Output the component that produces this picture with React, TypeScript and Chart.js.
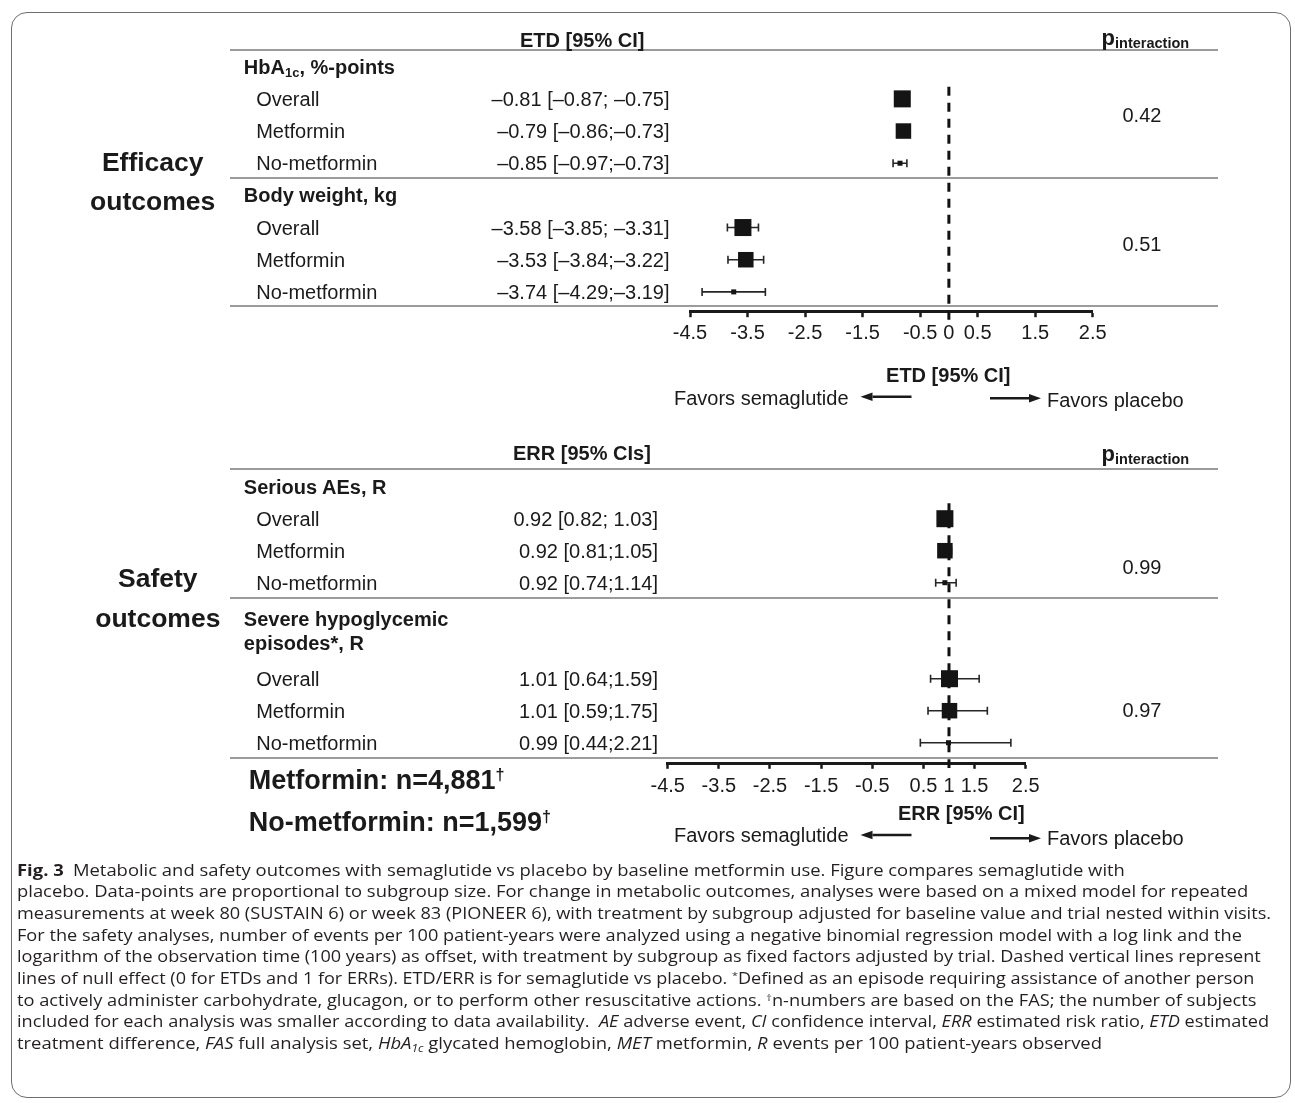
import React, { useEffect, useLayoutEffect, useRef } from 'react';
import { Chart, registerables } from 'chart.js';

Chart.register(...registerables);

// ---------------- DATA ----------------
const subgroups = ['Overall', 'Metformin', 'No-metformin'];

// Efficacy (ETD)
const etdRows = [1, 2, 3, 5, 6, 7];
const etdEstimate = [-0.81, -0.79, -0.85, -3.58, -3.53, -3.74];
const etdLower = [-0.87, -0.86, -0.97, -3.85, -3.84, -4.29];
const etdUpper = [-0.75, -0.73, -0.73, -3.31, -3.22, -3.19];
const etdText = [
  '\u20130.81 [\u20130.87; \u20130.75]',
  '\u20130.79 [\u20130.86;\u20130.73]',
  '\u20130.85 [\u20130.97;\u20130.73]',
  '\u20133.58 [\u20133.85; \u20133.31]',
  '\u20133.53 [\u20133.84;\u20133.22]',
  '\u20133.74 [\u20134.29;\u20133.19]',
];
const etdPInteraction = ['0.42', '0.51'];
const etdTicks = [-4.5, -3.5, -2.5, -1.5, -0.5, 0, 0.5, 1.5, 2.5];

// Safety (ERR)
const errRows = [1, 2, 3, 6, 7, 8];
const errEstimate = [0.92, 0.92, 0.92, 1.01, 1.01, 0.99];
const errLower = [0.82, 0.81, 0.74, 0.64, 0.59, 0.44];
const errUpper = [1.03, 1.05, 1.14, 1.59, 1.75, 2.21];
const errText = [
  '0.92 [0.82; 1.03]',
  '0.92 [0.81;1.05]',
  '0.92 [0.74;1.14]',
  '1.01 [0.64;1.59]',
  '1.01 [0.59;1.75]',
  '0.99 [0.44;2.21]',
];
const errPInteraction = ['0.99', '0.97'];
const errTicks = [-4.5, -3.5, -2.5, -1.5, -0.5, 0.5, 1, 1.5, 2.5];

// ---------------- STYLE / LAYOUT ----------------
const FONT = "'Liberation Sans', Arial, Helvetica, sans-serif";
const CAP_FONT = "'Open Sans', 'Noto Sans', sans-serif";
const INK = '#1a1a1a';
const markerSide: Record<string, number> = { Overall: 17, Metformin: 15.5, 'No-metformin': 5 };

const W = 1295;
// top chart geometry
const T_BASE = 66.7, T_STEP = 32.17, T_TOP = 50, T_AXIS = 311.7, T_LEFT = 690, T_RIGHT = 1092.7;
// bottom chart geometry
const B_CANVAS_TOP = 420;
const B_BASE = 486.7, B_STEP = 32, B_TOP = 469.3, B_AXIS = 763.3, B_LEFT = 667.7, B_RIGHT = 1025.7;
const AXIS_H = 40;

const tRowY = (i: number) => T_BASE + T_STEP * i;
const bRowY = (i: number) => B_BASE + B_STEP * i;

const forestPlugin = {
  id: 'forestMarks',
  afterDatasetsDraw(chart: any) {
    const { ctx } = chart;
    const xs = chart.scales.x;
    const meta = chart.getDatasetMeta(0);
    const pts = chart.data.datasets[0].data as any[];
    ctx.save();
    meta.data.forEach((el: any, i: number) => {
      const p = pts[i];
      const y = el.y;
      const xl = xs.getPixelForValue(p.lo);
      const xh = xs.getPixelForValue(p.hi);
      ctx.strokeStyle = '#262626';
      ctx.lineWidth = 1.6;
      ctx.beginPath();
      ctx.moveTo(xl, y);
      ctx.lineTo(xh, y);
      ctx.moveTo(xl, y - 4);
      ctx.lineTo(xl, y + 4);
      ctx.moveTo(xh, y - 4);
      ctx.lineTo(xh, y + 4);
      ctx.stroke();
      const s = markerSide[p.grp];
      ctx.fillStyle = '#141414';
      ctx.fillRect(el.x - s / 2, y - s / 2, s, s);
    });
    ctx.restore();
  },
};

function makeForest(
  canvas: HTMLCanvasElement,
  cfg: {
    est: number[]; lo: number[]; hi: number[]; rows: number[]; ticks: number[];
    nullValue: number; nullFrom: number; nullTo: number;
    yMin: number; yMax: number; pad: any; tickPad: number;
  }
) {
  const points = cfg.est.map((v, i) => ({
    x: v, y: cfg.rows[i], lo: cfg.lo[i], hi: cfg.hi[i], grp: subgroups[i % 3],
  }));
  return new Chart(canvas, {
    type: 'scatter',
    data: {
      datasets: [
        { data: points, pointRadius: 0, pointHoverRadius: 0, showLine: false } as any,
        {
          data: [{ x: cfg.nullValue, y: cfg.nullFrom }, { x: cfg.nullValue, y: cfg.nullTo }],
          showLine: true, borderColor: '#111', borderWidth: 3, borderDash: [9, 7],
          pointRadius: 0, pointHoverRadius: 0, clip: false, fill: false,
        } as any,
      ],
    },
    options: {
      animation: false,
      responsive: false,
      events: [],
      layout: { padding: cfg.pad },
      plugins: { legend: { display: false }, tooltip: { enabled: false }, title: { display: false } },
      scales: {
        x: {
          type: 'linear', position: 'bottom', min: -4.5, max: 2.5,
          afterBuildTicks: (s: any) => { s.ticks = cfg.ticks.map((v) => ({ value: v })); },
          afterFit: (s: any) => { s.height = AXIS_H; },
          ticks: {
            autoSkip: false, maxRotation: 0, minRotation: 0, padding: cfg.tickPad, color: INK,
            font: { family: FONT, size: 20 },
            callback: (v: any) => String(v),
          },
          grid: {
            display: true, drawOnChartArea: false, drawTicks: true, tickLength: 5.5, tickWidth: 2.5,
            tickColor: (c: any) => (c.tick && c.tick.value === cfg.nullValue ? 'rgba(0,0,0,0)' : INK),
          },
          border: { display: true, color: INK, width: 3 },
        } as any,
        y: { type: 'linear', display: false, reverse: true, min: cfg.yMin, max: cfg.yMax },
      },
    } as any,
    plugins: [forestPlugin as any],
  });
}

function Txt(props: { x: number; y: number; size?: number; bold?: boolean; align?: 'left' | 'right' | 'center'; children: any }) {
  const size = props.size ?? 20;
  const lh = size * 1.2;
  const st: any = {
    position: 'absolute', top: props.y - lh / 2, lineHeight: lh + 'px', fontSize: size,
    fontWeight: props.bold ? 700 : 400, whiteSpace: 'nowrap', fontFamily: FONT, color: INK,
  };
  const align = props.align ?? 'left';
  if (align === 'left') st.left = props.x;
  else if (align === 'right') st.right = W - props.x;
  else { st.left = props.x - 400; st.width = 800; st.textAlign = 'center'; }
  return <div style={st}>{props.children}</div>;
}

function PInter({ x, y }: { x: number; y: number }) {
  return (
    <div style={{ position: 'absolute', left: x, top: y, lineHeight: '26px', fontFamily: FONT, fontWeight: 700, fontSize: 22, color: INK, whiteSpace: 'nowrap' }}>
      p<span style={{ fontSize: 14.5, verticalAlign: '-3px', lineHeight: 0 }}>interaction</span>
    </div>
  );
}

function HLine({ y }: { y: number }) {
  return <div style={{ position: 'absolute', left: 230, width: 1218 - 230, top: y - 1, height: 2, background: '#9b9b9b' }} />;
}

function Arrow({ from, to, y }: { from: number; to: number; y: number }) {
  const dir = to > from ? -1 : 1;
  const head = 12;
  return (
    <g>
      <line x1={from} y1={y} x2={to + dir * head} y2={y} stroke={INK} strokeWidth={2.6} />
      <polygon points={`${to},${y} ${to + dir * head},${y - 4.2} ${to + dir * head},${y + 4.2}`} fill={INK} />
    </g>
  );
}

const CAP_LEFT = 16.6;
const CAP_Y0 = 870.7;
const CAP_STEP = 21.67;
const capRight = [1124.5, 1247.8, 1270.7, 1241.5, 1260.3, 1254, 1256, 1268.7, 1101.6];

const supSt: any = { fontSize: '0.6em', verticalAlign: '0.55em', lineHeight: 0 };
const subSt: any = { fontSize: '0.65em', verticalAlign: '-0.25em', lineHeight: 0 };

const captionLines = [
  <><b>Fig. 3</b>{'\u2002'}Metabolic and safety outcomes with semaglutide vs placebo by baseline metformin use. Figure compares semaglutide with</>,
  <>placebo. Data-points are proportional to subgroup size. For change in metabolic outcomes, analyses were based on a mixed model for repeated</>,
  <>measurements at week 80 (SUSTAIN 6) or week 83 (PIONEER 6), with treatment by subgroup adjusted for baseline value and trial nested within visits.</>,
  <>For the safety analyses, number of events per 100 patient-years were analyzed using a negative binomial regression model with a log link and the</>,
  <>logarithm of the observation time (100 years) as offset, with treatment by subgroup as fixed factors adjusted by trial. Dashed vertical lines represent</>,
  <>lines of null effect (0 for ETDs and 1 for ERRs). ETD/ERR is for semaglutide vs placebo. <span style={supSt}>*</span>Defined as an episode requiring assistance of another person</>,
  <>to actively administer carbohydrate, glucagon, or to perform other resuscitative actions. <span style={supSt}>†</span>n-numbers are based on the FAS; the number of subjects</>,
  <>included for each analysis was smaller according to data availability.{'\u00a0 '}<i>AE</i> adverse event, <i>CI</i> confidence interval, <i>ERR</i> estimated risk ratio, <i>ETD</i> estimated</>,
  <>treatment difference, <i>FAS</i> full analysis set, <i>HbA<span style={subSt}>1c</span></i> glycated hemoglobin, <i>MET</i> metformin, <i>R</i> events per 100 patient-years observed</>,
];

export default function App() {
  const c1 = useRef<HTMLCanvasElement>(null);
  const c2 = useRef<HTMLCanvasElement>(null);
  const capRefs = useRef<(HTMLDivElement | null)[]>([]);

  useEffect(() => {
    const a = makeForest(c1.current!, {
      est: etdEstimate, lo: etdLower, hi: etdUpper, rows: etdRows, ticks: etdTicks,
      nullValue: 0, nullFrom: (86.7 - T_BASE) / T_STEP, nullTo: (320 - T_BASE) / T_STEP,
      yMin: (T_TOP - T_BASE) / T_STEP, yMax: (T_AXIS - T_BASE) / T_STEP,
      pad: { left: T_LEFT, right: W - T_RIGHT, top: T_TOP, bottom: 370 - T_AXIS - AXIS_H },
      tickPad: 4,
    });
    const b = makeForest(c2.current!, {
      est: errEstimate, lo: errLower, hi: errUpper, rows: errRows, ticks: errTicks,
      nullValue: 1, nullFrom: (503.3 - B_BASE) / B_STEP, nullTo: (768 - B_BASE) / B_STEP,
      yMin: (B_TOP - B_BASE) / B_STEP, yMax: (B_AXIS - B_BASE) / B_STEP,
      pad: { left: B_LEFT, right: W - B_RIGHT, top: B_TOP - B_CANVAS_TOP, bottom: 440 - (B_AXIS - B_CANVAS_TOP) - AXIS_H },
      tickPad: 6,
    });
    return () => { a.destroy(); b.destroy(); };
  }, []);

  useLayoutEffect(() => {
    capRefs.current.forEach((el, i) => {
      if (!el) return;
      el.style.transform = 'none';
      const w = el.getBoundingClientRect().width;
      if (w > 0) el.style.transform = `scaleX(${(capRight[i] - CAP_LEFT) / w})`;
    });
  }, []);

  return (
    <div style={{ position: 'absolute', left: 0, top: 0, width: W, height: 1103, background: '#fff', overflow: 'hidden', fontFamily: FONT, color: INK }}>
      <div style={{ position: 'absolute', left: 11, top: 12, width: 1280, height: 1086, border: '1.5px solid #6e6e6e', borderRadius: 16, boxSizing: 'border-box' }} />

      <canvas ref={c1} width={W} height={370} style={{ position: 'absolute', left: 0, top: 0 }} />
      <canvas ref={c2} width={W} height={440} style={{ position: 'absolute', left: 0, top: B_CANVAS_TOP }} />

      {/* separators */}
      <HLine y={50} />
      <HLine y={178.3} />
      <HLine y={306} />
      <HLine y={469.3} />
      <HLine y={598.3} />
      <HLine y={758.3} />

      {/* ---- Efficacy block ---- */}
      <Txt x={520} y={40} bold>ETD [95% CI]</Txt>
      <PInter x={1101.6} y={25.2} />
      <Txt x={152.7} y={163} size={26.5} bold align="center">Efficacy</Txt>
      <Txt x={152.7} y={202} size={26.5} bold align="center">outcomes</Txt>
      <Txt x={243.8} y={tRowY(0)} bold>HbA<span style={subSt}>1c</span>, %-points</Txt>
      <Txt x={243.8} y={tRowY(4)} bold>Body weight, kg</Txt>
      {etdRows.map((r, i) => (
        <React.Fragment key={'t' + i}>
          <Txt x={256.2} y={tRowY(r)}>{subgroups[i % 3]}</Txt>
          <Txt x={669.5} y={tRowY(r)} align="right">{etdText[i]}</Txt>
        </React.Fragment>
      ))}
      <Txt x={1122.5} y={115}>{etdPInteraction[0]}</Txt>
      <Txt x={1122.5} y={244}>{etdPInteraction[1]}</Txt>
      <Txt x={948.3} y={375} bold align="center">ETD [95% CI]</Txt>
      <Txt x={674} y={397.7}>Favors semaglutide</Txt>
      <Txt x={1047} y={400}>Favors placebo</Txt>

      {/* ---- Safety block ---- */}
      <Txt x={513} y={453} bold>ERR [95% CIs]</Txt>
      <PInter x={1101.6} y={441.2} />
      <Txt x={157.8} y={579} size={26.5} bold align="center">Safety</Txt>
      <Txt x={157.8} y={619} size={26.5} bold align="center">outcomes</Txt>
      <Txt x={243.8} y={bRowY(0)} bold>Serious AEs, R</Txt>
      <Txt x={243.8} y={619} bold>Severe hypoglycemic</Txt>
      <Txt x={243.8} y={642.7} bold>episodes*, R</Txt>
      {errRows.map((r, i) => (
        <React.Fragment key={'b' + i}>
          <Txt x={256.2} y={bRowY(r)}>{subgroups[i % 3]}</Txt>
          <Txt x={658} y={bRowY(r)} align="right">{errText[i]}</Txt>
        </React.Fragment>
      ))}
      <Txt x={1122.5} y={566.7}>{errPInteraction[0]}</Txt>
      <Txt x={1122.5} y={710}>{errPInteraction[1]}</Txt>
      <Txt x={961.4} y={813.3} bold align="center">ERR [95% CI]</Txt>
      <Txt x={674} y={835}>Favors semaglutide</Txt>
      <Txt x={1047} y={838.3}>Favors placebo</Txt>
      <Txt x={248.8} y={780} size={27} bold>Metformin: n=4,881<span style={supSt}>†</span></Txt>
      <Txt x={248.8} y={821.7} size={27} bold>No-metformin: n=1,599<span style={supSt}>†</span></Txt>

      <svg width={W} height={1103} style={{ position: 'absolute', left: 0, top: 0, pointerEvents: 'none' }}>
        <Arrow from={911.5} to={860.5} y={396.7} />
        <Arrow from={990} to={1041} y={398.3} />
        <Arrow from={911.5} to={860.5} y={835} />
        <Arrow from={990} to={1041} y={838.3} />
      </svg>

      {/* caption */}
      {captionLines.map((ln, i) => (
        <div
          key={'c' + i}
          ref={(el) => { capRefs.current[i] = el; }}
          style={{
            position: 'absolute', left: CAP_LEFT, top: CAP_Y0 + CAP_STEP * i - 11, lineHeight: CAP_STEP + 'px',
            fontSize: 16, fontFamily: CAP_FONT, color: '#231f20', whiteSpace: 'nowrap', transformOrigin: '0 0',
          }}
        >
          {ln}
        </div>
      ))}
    </div>
  );
}
